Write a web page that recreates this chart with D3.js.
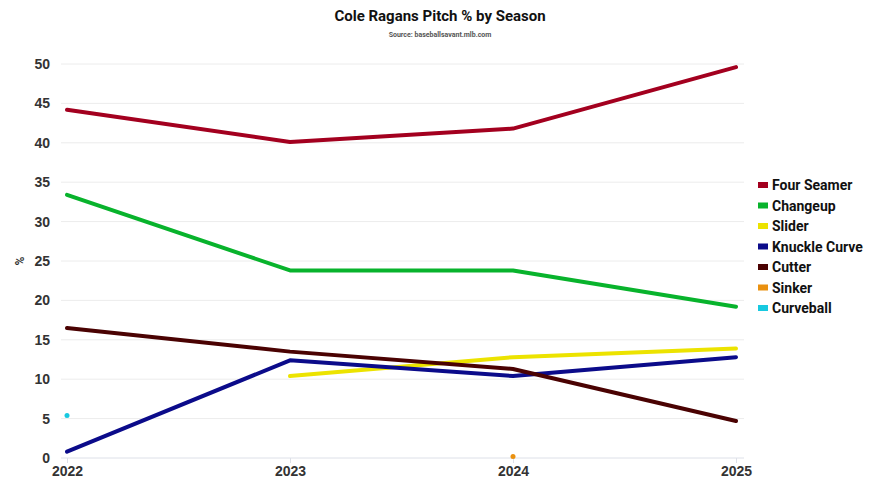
<!DOCTYPE html>
<html lang="en">
<head>
<meta charset="utf-8">
<title>Cole Ragans Pitch % by Season</title>
<script src="https://d3js.org/d3.v7.min.js"></script>
<style>
  body { margin: 0; background: #fff; }
  svg { display: block; font-family: Roboto, "Liberation Sans", sans-serif; }
  .tick text { font-size: 14px; font-weight: bold; fill: #333; }
</style>
</head>
<body>
<svg class="chart" width="880" height="495"></svg>
<script>
// data
var seasons = ["2022", "2023", "2024", "2025"];
var pitches = ["Four Seamer", "Changeup", "Slider", "Knuckle Curve", "Cutter", "Sinker", "Curveball"];
var colors = ["#a3001f", "#08b32c", "#ece300", "#0b0b8a", "#4a0202", "#ea9110", "#18c9e0"];
var fourSeamer = [44.2, 40.1, 41.8, 49.6];
var changeup = [33.4, 23.8, 23.8, 19.2];
var slider = [null, 10.4, 12.8, 13.9];
var knuckleCurve = [0.8, 12.4, 10.4, 12.8];
var cutter = [16.5, 13.5, 11.3, 4.7];
var sinker = [null, null, 0.2, null];
var curveball = [5.4, null, null, null];
var yTicks = [0, 5, 10, 15, 20, 25, 30, 35, 40, 45, 50];

var series = [fourSeamer, changeup, slider, knuckleCurve, cutter, sinker, curveball];

var svg = d3.select(".chart");
var margin = {top: 64, left: 67, right: 144, bottom: 37};
var width = 880, height = 495;

var x = d3.scalePoint().domain(seasons).range([margin.left, width - margin.right]);
var y = d3.scaleLinear().domain([0, 50]).range([height - margin.bottom, margin.top]);

// title
svg.append("text")
  .attr("x", 440).attr("y", 21)
  .attr("text-anchor", "middle")
  .style("font-size", "15px").style("font-weight", "bold").style("fill", "#111")
  .text("Cole Ragans Pitch % by Season");
svg.append("text")
  .attr("x", 440).attr("y", 37)
  .attr("text-anchor", "middle")
  .style("font-size", "7px").style("font-weight", "bold").style("fill", "#555")
  .text("Source: baseballsavant.mlb.com");

// gridlines
svg.append("g")
  .selectAll("line")
  .data(yTicks)
  .join("line")
  .attr("x1", margin.left - 6).attr("x2", width - margin.right + 8)
  .attr("y1", function(d) { return y(d); }).attr("y2", function(d) { return y(d); })
  .attr("stroke", function(d) { return d === 0 ? "#dde0e8" : "#ececec"; })
  .attr("stroke-width", 1);

// y axis
var yAxis = svg.append("g")
  .attr("transform", "translate(" + (margin.left - 17) + ",0)")
  .call(d3.axisLeft(y).tickValues(yTicks).tickSize(0).tickPadding(0));
yAxis.select(".domain").remove();

// x axis
var xAxis = svg.append("g")
  .attr("transform", "translate(0," + (height - margin.bottom) + ")")
  .call(d3.axisBottom(x).tickSize(5).tickPadding(3));
xAxis.select(".domain").remove();
xAxis.selectAll(".tick line").attr("stroke", "#dde0e8");

// y label
svg.append("text")
  .attr("transform", "translate(24," + y(25) + ") rotate(-90)")
  .attr("text-anchor", "middle")
  .style("font-size", "12px").style("font-weight", "bold").style("fill", "#333")
  .text("%");

// lines
var line = d3.line()
  .defined(function(d) { return d != null; })
  .x(function(d, i) { return x(seasons[i]); })
  .y(function(d) { return y(d); });

series.forEach(function(s, k) {
  var n = s.filter(function(d) { return d != null; }).length;
  if (n > 1) {
    svg.append("path")
      .datum(s)
      .attr("fill", "none")
      .attr("stroke", colors[k])
      .attr("stroke-width", 4)
      .attr("stroke-linecap", "round")
      .attr("stroke-linejoin", "round")
      .attr("d", line);
  } else {
    svg.append("g").selectAll("circle")
      .data(s.map(function(d, i) { return {v: d, i: i}; }).filter(function(d) { return d.v != null; }))
      .join("circle")
      .attr("cx", function(d) { return x(seasons[d.i]); })
      .attr("cy", function(d) { return y(d.v); })
      .attr("r", 2.5)
      .attr("fill", colors[k]);
  }
});

// legend
var legend = svg.append("g").attr("transform", "translate(758,185)");
var items = legend.selectAll("g")
  .data(pitches)
  .join("g")
  .attr("transform", function(d, i) { return "translate(0," + (i * 20.5) + ")"; });
items.append("rect")
  .attr("x", 0).attr("y", -3).attr("width", 10).attr("height", 6)
  .attr("fill", function(d, i) { return colors[i]; });
items.append("text")
  .attr("x", 14).attr("y", 5)
  .style("font-size", "14px").style("font-weight", "bold").style("fill", "#111")
  .text(function(d) { return d; });
</script>
</body>
</html>
